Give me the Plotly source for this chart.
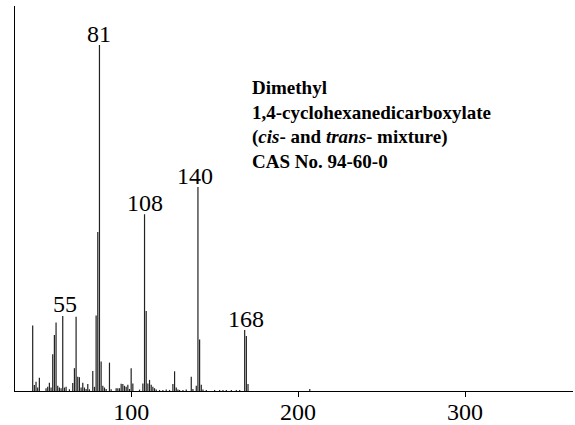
import plotly.graph_objects as go

# m/z values and relative intensities (%)
mz = [41, 42, 43, 44, 45, 49, 50, 51, 52, 53, 54, 55, 56, 57, 58, 59, 60, 61, 63,
      65, 66, 67, 68, 69, 70, 71, 72, 73, 74, 75, 77, 78, 79, 80, 81, 82, 83, 84,
      85, 87, 88, 91, 92, 93, 94, 95, 96, 97, 98, 99, 100, 101, 105, 107, 108, 109,
      110, 111, 112, 113, 114, 115, 117, 119, 121, 123, 125, 126, 127, 128, 129,
      131, 133, 136, 137, 139, 140, 141, 142, 143, 145, 150, 153, 155, 157, 160,
      163, 165, 168, 169, 170, 207]
intensity = [18.9, 1.7, 2.7, 1.0, 3.8, 0.8, 1.2, 2.4, 1.0, 10.6, 16.2, 19.8, 1.5, 1.0,
             0.8, 21.7, 1.0, 1.2, 0.5, 2.3, 6.6, 21.5, 4.1, 4.0, 1.0, 2.4, 1.0, 0.6,
             2.0, 0.5, 5.8, 1.2, 21.8, 46.0, 100.0, 8.5, 1.5, 1.0, 0.6, 8.2, 0.5, 0.8,
             0.8, 0.8, 2.1, 2.0, 1.5, 1.2, 1.8, 0.6, 6.6, 2.2, 0.4, 2.2, 51.1, 23.1,
             2.2, 3.2, 1.8, 1.2, 0.8, 0.4, 0.3, 0.3, 0.4, 0.3, 2.0, 5.7, 1.0, 0.4, 0.3,
             0.3, 0.4, 4.1, 0.6, 1.5, 59.0, 14.9, 1.8, 0.4, 0.3, 0.3, 0.3, 0.3, 0.3,
             0.3, 0.3, 0.3, 17.6, 15.9, 2.0, 0.6]

label_mz = [55, 81, 108, 140, 168]
label_text = ["55", "81", "108", "140", "168"]
label_shift_x = [9, 0, 0, -3, 1]
label_shift_y = [8, 0, 0, 0, 0]

x_ticks = [100, 200, 300]
title_lines = ["<b>Dimethyl</b>",
               "<b>1,4-cyclohexanedicarboxylate</b>",
               "<b>(<i>cis</i>- and <i>trans</i>- mixture)</b>",
               "<b>CAS No. 94-60-0</b>"]

xs, ys = [], []
for m, v in zip(mz, intensity):
    xs += [m, m, None]
    ys += [0, v, None]

fig = go.Figure()
fig.add_trace(go.Scatter(x=xs, y=ys, mode="lines",
                         line=dict(color="#222222", width=1.2),
                         hoverinfo="skip", showlegend=False))

serif = "'Times New Roman', 'Liberation Serif', 'DejaVu Serif', serif"
for m, t, dx, dy in zip(label_mz, label_text, label_shift_x, label_shift_y):
    fig.add_annotation(x=m, y=intensity[mz.index(m)], text=t, showarrow=False,
                       xanchor="center", yanchor="bottom", xshift=dx, yshift=dy - 4,
                       font=dict(family=serif, size=24, color="black"))

fig.add_annotation(x=0.421, y=0.82, xref="paper", yref="paper",
                   text="<br>".join(title_lines), showarrow=False,
                   xanchor="left", yanchor="top", align="left",
                   font=dict(family=serif, size=19, color="black"))

fig.update_layout(
    width=575, height=425,
    margin=dict(l=15, r=2, t=6, b=34, autoexpand=False),
    paper_bgcolor="white", plot_bgcolor="white",
    font=dict(family=serif),
    xaxis=dict(range=[30.4, 364.7], tickvals=x_ticks, ticktext=[str(v) for v in x_ticks],
               showline=True, linecolor="black", linewidth=1, automargin=False,
               ticks="outside", ticklen=5, tickcolor="black", ticklabelstandoff=-6,
               showgrid=False, zeroline=False,
               tickfont=dict(family=serif, size=24, color="black")),
    yaxis=dict(range=[0, 111.3], showline=True, linecolor="black", linewidth=1,
               automargin=False,
               showticklabels=False, ticks="", showgrid=False, zeroline=False),
)

fig.write_html("out.html")
